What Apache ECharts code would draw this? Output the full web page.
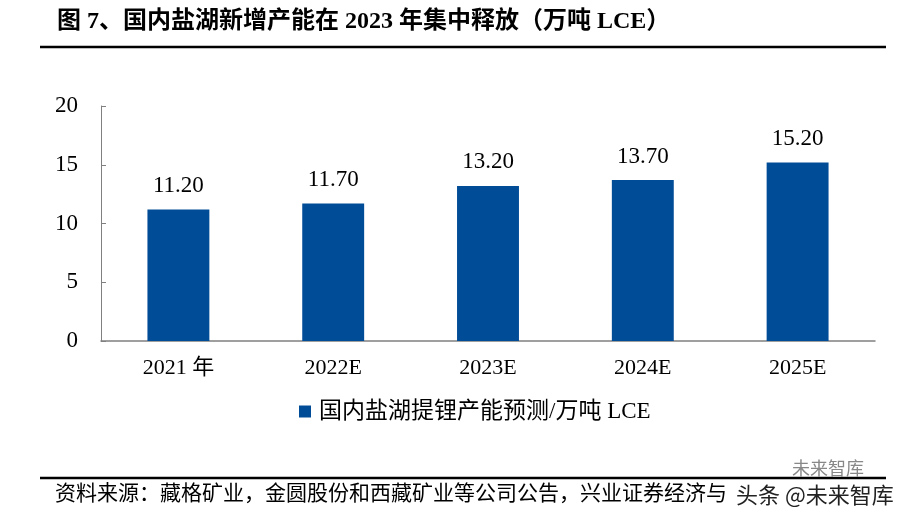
<!DOCTYPE html>
<html><head><meta charset="utf-8">
<script src="https://cdn.jsdelivr.net/npm/echarts@6/dist/echarts.min.js"></script>
<style>html,body{margin:0;padding:0;background:#fff}#c{width:914px;height:521px}</style>
</head><body><div id="c"></div>
<script>
var categories = ['2021 年', '2022E', '2023E', '2024E', '2025E'];
var values = [11.2, 11.7, 13.2, 13.7, 15.2];
var seriesName = '国内盐湖提锂产能预测/万吨 LCE';
var titleText = '图 7、国内盐湖新增产能在 2023 年集中释放（万吨 LCE）';
var sourceText = '资料来源：藏格矿业，金圆股份和西藏矿业等公司公告，兴业证券经济与';
var watermarkText = '头条 @未来智库';

var FONT = '"Liberation Serif","Noto Sans CJK SC",serif';
var chart = echarts.init(document.getElementById('c'));
chart.setOption({
  animation: false,
  textStyle: {fontFamily: FONT},
  title: {text: titleText, left: 52, top: 5,
    textStyle: {fontFamily: FONT, fontSize: 24, fontWeight: 'bold', color: '#000'}},
  graphic: [
    {type: 'line', shape: {x1: 40, y1: 47, x2: 886, y2: 47}, style: {stroke: '#000', lineWidth: 2.5}},
    {type: 'line', shape: {x1: 40, y1: 478, x2: 886, y2: 478}, style: {stroke: '#000', lineWidth: 2.5}},
    {type: 'text', left: 792, top: 459, style: {text: '未来智库', font: '18px "Noto Sans CJK SC",sans-serif', fill: '#888'}},
    {type: 'text', left: 55, top: 484, style: {text: sourceText, font: '21px ' + FONT, fill: '#000'}},
    {type: 'text', left: 736, top: 484, style: {text: watermarkText, font: '22px "Noto Sans CJK SC",sans-serif', fill: '#222'}}
  ],
  legend: {bottom: 93, left: 294, itemWidth: 12, itemHeight: 12, icon: 'rect',
    textStyle: {fontFamily: FONT, fontSize: 23, color: '#000', padding: [0, 0, 0, 3]}},
  grid: {left: 101, right: 39, top: 106, bottom: 180, containLabel: false},
  xAxis: {type: 'category', data: categories,
    axisLine: {lineStyle: {color: '#808080', width: 1.5}},
    axisTick: {show: false},
    axisLabel: {fontFamily: FONT, fontSize: 22, color: '#000', margin: 16}},
  yAxis: {type: 'value', min: 0, max: 20, interval: 5,
    axisLine: {show: true, lineStyle: {color: '#808080', width: 1}},
    axisTick: {show: true, inside: true, length: 5, lineStyle: {color: '#808080'}},
    splitLine: {show: false},
    axisLabel: {fontFamily: FONT, fontSize: 23, color: '#000', margin: 23}},
  series: [{name: seriesName, type: 'bar', data: values, barWidth: '40%',
    itemStyle: {color: '#004c97'},
    label: {show: true, position: 'top', distance: 12, fontFamily: FONT, fontSize: 23, color: '#000',
      formatter: function(p){return p.value.toFixed(2);}}}]
});
</script></body></html>
